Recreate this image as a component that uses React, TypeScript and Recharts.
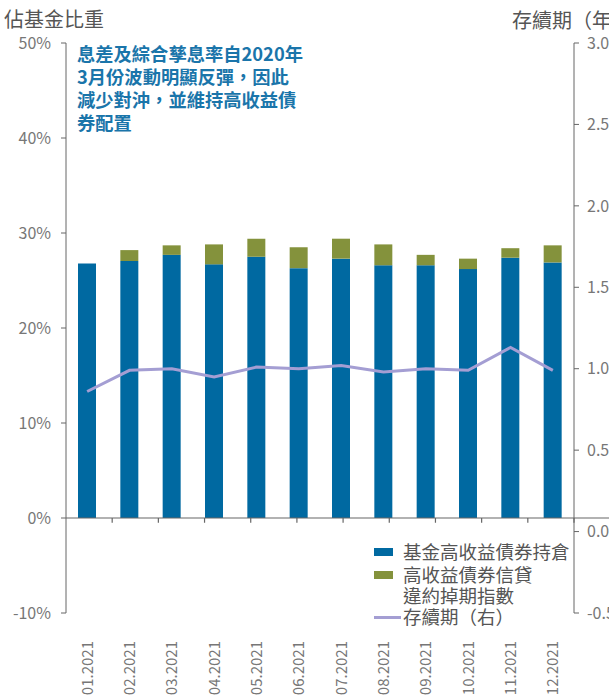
import React from "react";
import {
  ComposedChart,
  Bar,
  Line,
  XAxis,
  YAxis,
  ReferenceLine,
} from "recharts";

const months = [
  "01.2021", "02.2021", "03.2021", "04.2021", "05.2021", "06.2021",
  "07.2021", "08.2021", "09.2021", "10.2021", "11.2021", "12.2021",
];
const holdings = [26.8, 27.05, 27.7, 26.7, 27.5, 26.3, 27.3, 26.6, 26.6, 26.2, 27.4, 26.9];
const cdsIndex = [0, 1.15, 1.0, 2.1, 1.9, 2.2, 2.1, 2.2, 1.1, 1.1, 1.0, 1.8];
const duration = [0.86, 0.99, 1.0, 0.95, 1.01, 1.0, 1.02, 0.98, 1.0, 0.99, 1.13, 0.99];

const leftTicks = [-10, 0, 10, 20, 30, 40, 50];
const rightTicks = [-0.5, 0, 0.5, 1.0, 1.5, 2.0, 2.5, 3.0];
const boundaries = [1, 2, 3, 4, 5, 6, 7, 8, 9, 10, 11];

const seriesNames = ["基金高收益債券持倉", "高收益債券信貸違約掉期指數", "存續期（右）"];
const leftTitle = "佔基金比重";
const rightTitle = "存續期（年）";
const noteLines = [
  "息差及綜合孳息率自2020年",
  "3月份波動明顯反彈，因此",
  "減少對沖，並維持高收益債",
  "券配置",
];

const data = months.map((m, i) => ({
  month: m,
  holdings: holdings[i],
  cds: cdsIndex[i],
  duration: duration[i],
}));

const BLUE = "#0069A1";
const GREEN = "#84923C";
const PURPLE = "#A49ED3";
const AXIS = "#666666";
const TICK = "#777777";
const FONT = "'Noto Sans CJK TC', 'Noto Sans', sans-serif";

// Render full-width parentheses in a full em box, as in the reference.
const FullWidth = ({ text }: { text: string }) => (
  <>
    {Array.from(text).map((ch, i) =>
      ch === "（" || ch === "）" ? (
        <span
          key={i}
          style={{ display: "inline-block", width: "1em", textAlign: "center" }}
        >
          {ch}
        </span>
      ) : (
        <React.Fragment key={i}>{ch}</React.Fragment>
      )
    )}
  </>
);

const MonthTick = (props: any) => {
  const { x, y, payload } = props;
  return (
    <g transform={`translate(${x},${y})`}>
      <text
        transform="rotate(-90)"
        x={-20}
        y={0}
        dy="0.36em"
        textAnchor="end"
        fill={TICK}
        fontSize={15}
        fontFamily={FONT}
      >
        {payload.value}
      </text>
    </g>
  );
};

export default function App() {
  return (
    <div
      style={{
        position: "absolute",
        left: 0,
        top: 0,
        width: 609,
        height: 698,
        background: "#fff",
        fontFamily: FONT,
        overflow: "hidden",
      }}
    >
      <ComposedChart
        width={609}
        height={698}
        data={data}
        margin={{ top: 43, right: 0, left: 0, bottom: 0 }}
        barCategoryGap={12}
      >
        <XAxis
          dataKey="month"
          height={85}
          axisLine={false}
          tickLine={false}
          interval={0}
          tick={<MonthTick />}
        />
        <XAxis xAxisId="b" type="number" domain={[0, 12]} hide allowDataOverflow />
        <YAxis
          yAxisId="left"
          width={66}
          domain={[-10, 50]}
          ticks={leftTicks}
          tickFormatter={(v: number) => `${v}%`}
          stroke={AXIS}
          tickSize={5}
          tickMargin={10}
          tick={{ fill: TICK, fontSize: 16, fontFamily: FONT }}
          allowDataOverflow
        />
        <YAxis
          yAxisId="right"
          orientation="right"
          width={35}
          domain={[-0.5, 3.0]}
          ticks={rightTicks}
          tickFormatter={(v: number) => v.toFixed(1)}
          stroke={AXIS}
          tickSize={5}
          tickMargin={8}
          tick={{ fill: TICK, fontSize: 16, fontFamily: FONT, textAnchor: "start" }}
          allowDataOverflow
        />
        <Bar
          yAxisId="left"
          dataKey="holdings"
          stackId="a"
          fill={BLUE}
          barSize={18}
          isAnimationActive={false}
        />
        <Bar
          yAxisId="left"
          dataKey="cds"
          stackId="a"
          fill={GREEN}
          barSize={18}
          isAnimationActive={false}
        />
        <ReferenceLine
          xAxisId="b"
          yAxisId="left"
          segment={[
            { x: 0, y: 0 },
            { x: 12.17, y: 0 },
          ]}
          ifOverflow="visible"
          stroke={AXIS}
          strokeWidth={1.2}
        />
        {boundaries.map((b) => (
          <ReferenceLine
            key={b}
            xAxisId="b"
            yAxisId="left"
            segment={[
              { x: b, y: 0 },
              { x: b, y: -0.5 },
            ]}
            stroke={AXIS}
            strokeWidth={1.2}
          />
        ))}
        <Line
          yAxisId="right"
          dataKey="duration"
          stroke={PURPLE}
          strokeWidth={3}
          dot={false}
          activeDot={false}
          isAnimationActive={false}
        />
      </ComposedChart>

      <div
        style={{
          position: "absolute",
          left: 4,
          top: 6,
          fontSize: 20,
          color: "#555",
          lineHeight: "26px",
          whiteSpace: "nowrap",
        }}
      >
        {leftTitle}
      </div>
      <div
        style={{
          position: "absolute",
          left: 512,
          top: 7,
          fontSize: 20,
          color: "#555",
          lineHeight: "26px",
          whiteSpace: "nowrap",
        }}
      >
        <FullWidth text={rightTitle} />
      </div>
      <div
        style={{
          position: "absolute",
          left: 77,
          top: 42,
          fontSize: 18.3,
          fontWeight: 700,
          color: "#1A75AA",
          lineHeight: "23px",
          whiteSpace: "nowrap",
        }}
      >
        {noteLines.map((l, i) => (
          <div key={i}>{l}</div>
        ))}
      </div>

      <div
        style={{
          position: "absolute",
          left: 374,
          top: 540,
          fontSize: 18.5,
          color: "#555",
          lineHeight: "22px",
          whiteSpace: "nowrap",
        }}
      >
        <div style={{ display: "flex", alignItems: "flex-start", marginBottom: 2 }}>
          <span style={{ width: 19, height: 8, background: BLUE, marginTop: 8, marginRight: 10 }} />
          <span>{seriesNames[0]}</span>
        </div>
        <div style={{ display: "flex", alignItems: "flex-start", lineHeight: "21px" }}>
          <span style={{ width: 19, height: 8, background: GREEN, marginTop: 7, marginRight: 10 }} />
          <span style={{ whiteSpace: "normal" }}>
            {seriesNames[1].slice(0, 7)}
            <br />
            {seriesNames[1].slice(7)}
          </span>
        </div>
        <div style={{ display: "flex", alignItems: "flex-start", lineHeight: "21px" }}>
          <span style={{ width: 27, height: 3, background: PURPLE, marginTop: 10, marginRight: 2 }} />
          <span>
            <FullWidth text={seriesNames[2]} />
          </span>
        </div>
      </div>
    </div>
  );
}
